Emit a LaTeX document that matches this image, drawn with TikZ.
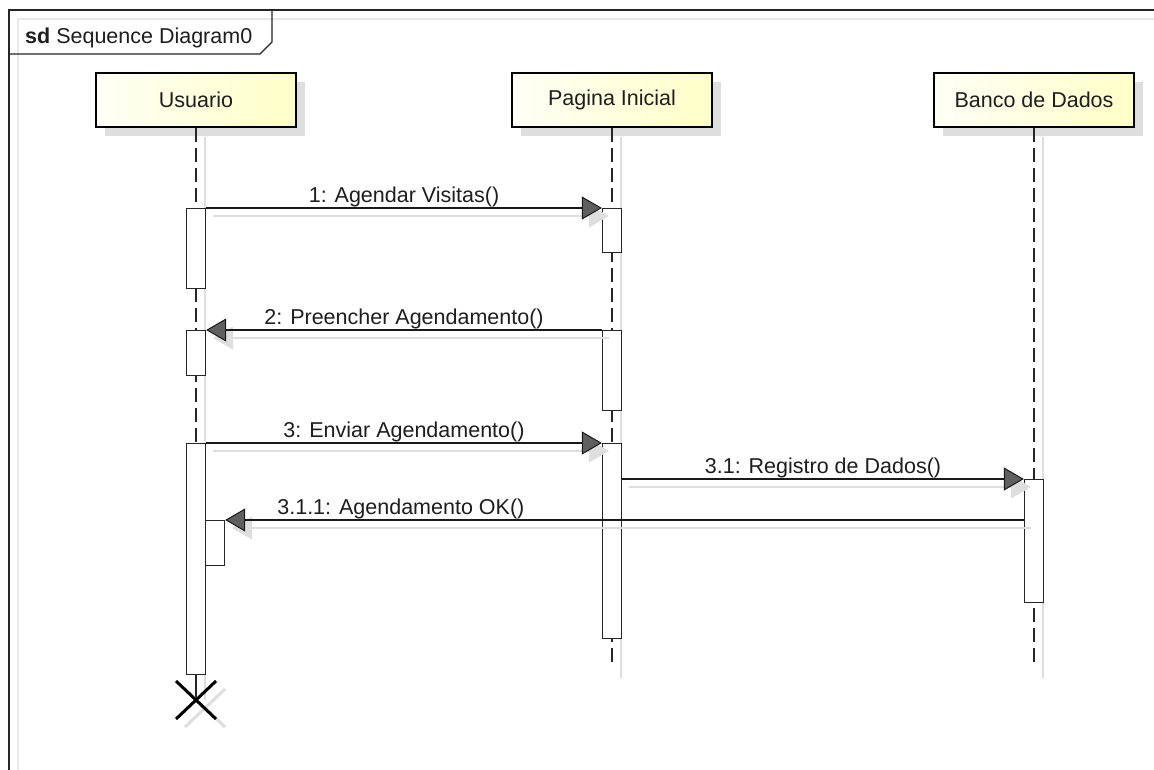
\documentclass[tikz,border=0pt]{standalone}
\usepackage{fontspec}
\setmainfont{Liberation Sans}
\usetikzlibrary{arrows.meta,shadows,calc}
\definecolor{hdleft}{RGB}{255,255,246}
\definecolor{hdright}{RGB}{255,255,200}
\definecolor{shd}{RGB}{222,222,222}
\definecolor{frsh}{RGB}{232,232,232}
\definecolor{tipfill}{RGB}{95,95,95}
\definecolor{txt}{RGB}{30,30,30}
\begin{document}
\begin{tikzpicture}[x=1pt,y=-1pt,
  font=\fontsize{21.5}{25}\selectfont,
  head/.style={draw=black, line width=2.6pt, minimum width=200pt, minimum height=54pt,
    inner sep=0pt, left color=hdleft, right color=hdright, text=txt,
    general shadow={fill=shd, shadow xshift=9pt, shadow yshift=-9pt}},
  act/.style={draw=black!85, fill=white, line width=1.3pt, minimum width=19pt,
    inner sep=0pt, anchor=north},
  life/.style={draw=black!85, line width=1.5pt, dash pattern=on 14pt off 6pt},
  lifesh/.style={draw=shd, line width=1.3pt},
  msg/.style={draw=black!90, line width=1.5pt,
    -{Triangle[length=20pt,width=23pt,fill=tipfill,line width=1pt]}},
  msgsh/.style={draw=shd, line width=1.5pt,
    -{Triangle[length=20pt,width=23pt,fill=shd,line width=1pt]},
    transform canvas={shift={(7pt,-8pt)}}},
  lbl/.style={anchor=base, yshift=5.5pt, inner sep=0pt, text=txt},
  xmark/.style={draw=black, line width=3pt},
  xmarksh/.style={draw=shd, line width=3pt}
]
\useasboundingbox (0,0) rectangle (1154,769);
\clip (0,0) rectangle (1154,769);
\fill[white] (0,0) rectangle (1154,769);

% frame
\draw[frsh, line width=1.2pt] (18,780) -- (18,19) -- (1170,19);
\draw[black!85, line width=1.3pt] (9,780) -- (9,10) -- (1170,10);
\draw[black!85, line width=1.3pt] (9,54) -- (260,54) -- (272,42) -- (272,10);
\node[anchor=base west, inner sep=0pt, text=txt] (title) at (25,43) {\textbf{sd} Sequence Diagram0};

% lifeline heads
\node[head] (u) at (196,100) {Usuario};
\node[head] (p) at (612,100) {Pagina Inicial};
\node[head] (b) at (1034,100) {Banco de Dados};

\coordinate (xend) at (196,700);
\coordinate (pend) at (612,668);
\coordinate (bend) at (1034,668);

% lifeline shadows
\draw[lifesh] ($(u.south)+(9,9)$) -- ($(xend)+(9,0)$);
\draw[lifesh] ($(p.south)+(9,9)$) -- ($(pend)+(9,10)$);
\draw[lifesh] ($(b.south)+(9,9)$) -- ($(bend)+(9,10)$);

% lifelines
\draw[life] (u.south) -- (xend);
\draw[life] (p.south) -- (pend);
\draw[life] (b.south) -- (bend);

% activations
\node[act, minimum height=80pt]  (a1) at (196,208) {};
\node[act, minimum height=44pt]  (p1) at (612,208) {};
\node[act, minimum height=45pt]  (a2) at (196,330) {};
\node[act, minimum height=80pt]  (p2) at (612,330) {};
\node[act, minimum height=231pt] (a3) at (196,443) {};
\node[act, minimum height=195pt] (p3) at (612,443) {};
\node[act, minimum height=123pt] (b1) at (1034,479) {};
\node[act, minimum height=45pt]  (a4) at (215,520) {};

\draw[black!85, line width=1.5pt] ($(a3.south)+(0,6)$) -- (xend);

% message shadows
\draw[msgsh] (a1.north east) -- (p1.north west);
\draw[msgsh] (p2.north west) -- (a2.north east);
\draw[msgsh] (a3.north east) -- (p3.north west);
\draw[msgsh] (p3.east |- b1.north) -- (b1.north west);
\draw[msgsh] (b1.west |- a4.north) -- (a4.north east);

% messages
\draw[msg] (a1.north east) -- (p1.north west) node[lbl, midway] {1: Agendar Visitas()};
\draw[msg] (p2.north west) -- (a2.north east) node[lbl, midway] {2: Preencher Agendamento()};
\draw[msg] (a3.north east) -- (p3.north west) node[lbl, midway] {3: Enviar Agendamento()};
\draw[msg] (p3.east |- b1.north) -- (b1.north west) node[lbl, midway] {3.1: Registro de Dados()};
\draw[msg] (b1.west |- a4.north) -- (a4.north east) node[lbl, pos=0.78] {3.1.1: Agendamento OK()};

% destruction mark
\draw[xmarksh] ($(xend)+(-11,-11)$) -- ($(xend)+(29,27)$);
\draw[xmarksh] ($(xend)+(-11,27)$) -- ($(xend)+(29,-11)$);
\draw[xmark] ($(xend)+(-20,-19)$) -- ($(xend)+(20,19)$);
\draw[xmark] ($(xend)+(-20,19)$) -- ($(xend)+(20,-19)$);
\end{tikzpicture}
\end{document}
